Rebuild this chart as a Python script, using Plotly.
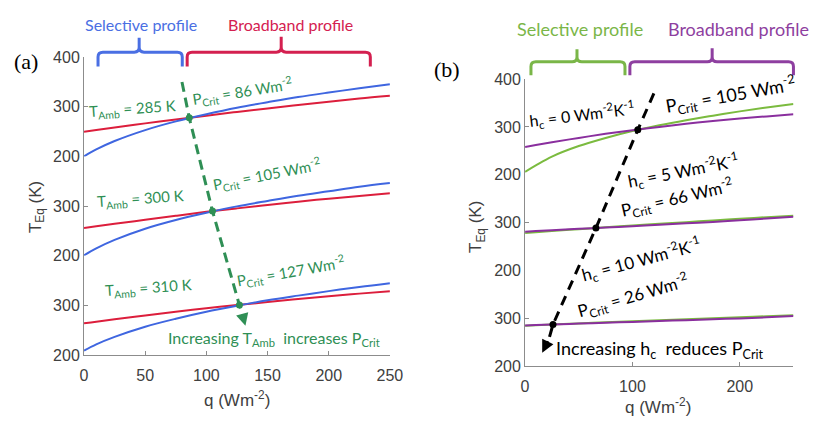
import plotly.graph_objects as go

W, H = 828, 427

# ---------------- data ----------------
q = [0, 10, 25, 50, 75, 100, 125, 150, 175, 200, 225, 250]

# panel (a): ambient temperature sweep (selective vs broadband emitter)
a_sel_285 = [200, 214, 231, 253, 270.5, 285, 298, 309, 319.5, 328.5, 337, 345]
a_bb_285 = [249.5, 253, 258, 266.5, 274.5, 282, 289.5, 296.5, 303.5, 310, 316.5, 322]
a_sel_300 = [201, 215, 232, 254.5, 272, 286.5, 299.5, 310.5, 321, 330, 339, 346.5]
a_bb_300 = [256, 259.5, 264.5, 272.5, 280.5, 288.5, 295.5, 302.5, 309, 315, 320.5, 326]
a_sel_310 = [209.5, 222, 237, 257.5, 273.5, 287.5, 299.5, 310.5, 320, 329, 337.5, 345]
a_bb_310 = [264.5, 267.5, 272.5, 280, 287.5, 294.5, 301, 307, 313, 318.5, 324, 329]

# panel (b): convection coefficient sweep
b_sel_0 = [206, 219.5, 238, 260, 277, 291.5, 303.5, 314, 323.5, 332.5, 340.5, 348]
b_bb_0 = [258, 262, 268, 277, 285.5, 293, 300, 306.5, 312.5, 317.5, 322, 326.5]
b_sel_5 = [278, 279.8, 282.3, 286.3, 290.2, 294, 297.6, 301, 304.5, 308, 311.3, 314.5]
b_bb_5 = [281, 282.2, 284, 287, 289.7, 292.5, 295.5, 298.5, 301.5, 305, 308.5, 312.2]
b_sel_10 = [284.2, 285.3, 287, 289.3, 291.5, 293.6, 295.7, 297.9, 300, 302.2, 304.3, 306.5]
b_bb_10 = [285, 285.8, 287, 288.9, 290.7, 292.5, 294.3, 296.1, 297.9, 299.8, 302, 304.8]

# critical powers (q) and temperatures where the two profiles cross
a_pcrit = [86, 105, 127]
a_tcross = [277.8, 290, 301]
b_pcrit = [105, 66, 26]
b_tcross = [294, 288.7, 287]

a_labels_t = ["285", "300", "310"]
b_labels_h = ["0", "5", "10"]

# ---------------- layout geometry (pixels) ----------------
XPX = {"a": (81.7, 394.0), "b": (532.0, 806.0)}
YPX = {"a": [51.0, 154.6, 258.1, 361.7], "b": [74.0, 173.7, 273.3, 373.0]}
QMAX, TMIN, TMAX = 250, 200, 400


def paper(x, y):
    return x / W, 1 - y / H


def data_px(panel, row, qq, tt):
    x0, x1 = XPX[panel]
    top, bot = YPX[panel][row], YPX[panel][row + 1]
    return (x0 + qq / QMAX * (x1 - x0),
            bot - (tt - TMIN) / (TMAX - TMIN) * (bot - top))


BLUE, RED = "#3f66e0", "#dc1e3c"
GREEN_A = "#2f8f55"
LGREEN, PURPLE = "#7bbb3f", "#8a2f9e"
AXC, TXC = "#8c8c8c", "#404040"

fig = go.Figure()

axis_common = dict(showgrid=False, zeroline=False, showline=True, linecolor=AXC,
                   linewidth=1, ticks="inside", ticklen=4, tickcolor=AXC,
                   tickfont=dict(family="Liberation Sans, Arial", size=16, color=TXC))

layout = dict(width=W, height=H, margin=dict(l=0, r=0, t=0, b=0), autosize=False,
              paper_bgcolor="white", plot_bgcolor="rgba(0,0,0,0)", showlegend=False)

# x axes
layout["xaxis"] = dict(axis_common, domain=[XPX["a"][0] / W, XPX["a"][1] / W],
                       range=[0, QMAX], anchor="y3", tickvals=[0, 50, 100, 150, 200, 250],
                       ticklabelstandoff=6)
layout["xaxis2"] = dict(axis_common, domain=[XPX["b"][0] / W, XPX["b"][1] / W],
                        range=[0, QMAX], anchor="y6", tickvals=[0, 100, 200],
                        ticklabelstandoff=6)

# y axes: three stacked per panel
for panel, base, xa in (("a", 1, "x"), ("b", 4, "x2")):
    for r in range(3):
        top, bot = YPX[panel][r], YPX[panel][r + 1]
        name = "yaxis" if base + r == 1 else f"yaxis{base + r}"
        layout[name] = dict(axis_common, domain=[1 - bot / H, 1 - top / H],
                            range=[TMIN, TMAX], anchor=xa,
                            tickvals=[200, 300, 400] if r == 0 else [200, 300])

fig.update_layout(**layout)

# curves
series_a = [(a_sel_285, a_bb_285), (a_sel_300, a_bb_300), (a_sel_310, a_bb_310)]
series_b = [(b_sel_0, b_bb_0), (b_sel_5, b_bb_5), (b_sel_10, b_bb_10)]
for r, (sel, bb) in enumerate(series_a):
    ya = "y" if r == 0 else f"y{r + 1}"
    fig.add_trace(go.Scatter(x=q, y=bb, mode="lines", line=dict(color=RED, width=2, shape="spline"),
                             xaxis="x", yaxis=ya))
    fig.add_trace(go.Scatter(x=q, y=sel, mode="lines", line=dict(color=BLUE, width=2, shape="spline"),
                             xaxis="x", yaxis=ya))
for r, (sel, bb) in enumerate(series_b):
    ya = f"y{r + 4}"
    fig.add_trace(go.Scatter(x=q, y=sel, mode="lines", line=dict(color=LGREEN, width=2, shape="spline"),
                             xaxis="x2", yaxis=ya))
    fig.add_trace(go.Scatter(x=q, y=bb, mode="lines", line=dict(color=PURPLE, width=2, shape="spline"),
                             xaxis="x2", yaxis=ya))

# dashed guide lines through the crossing points


def dashed_path(points):
    pts = [paper(*p) for p in points]
    return "M " + " L ".join(f"{x:.5f},{y:.5f}" for x, y in pts)


a_pts = [data_px("a", r, a_pcrit[r], a_tcross[r]) for r in range(3)]
b_pts = [data_px("b", r, b_pcrit[r], b_tcross[r]) for r in range(3)]

a_start, a_tail, a_tip = (181.7, 77.0), (243.0, 318.0), (246.5, 331.0)
b_start, b_tail, b_tip = (663.5, 89.0), (556.0, 346.0), (549.5, 359.0)

fig.add_shape(type="path", xref="paper", yref="paper", layer="above",
              path=dashed_path([a_start] + a_pts + [a_tail]),
              line=dict(color=GREEN_A, width=3, dash="10px,6px"))
fig.add_shape(type="path", xref="paper", yref="paper", layer="above",
              path=dashed_path([b_start] + b_pts + [b_tail]),
              line=dict(color="black", width=3, dash="10px,7px"))

for r in range(3):
    fig.add_trace(go.Scatter(x=[a_pcrit[r]], y=[a_tcross[r]], mode="markers",
                             marker=dict(color=GREEN_A, size=7), xaxis="x",
                             yaxis="y" if r == 0 else f"y{r + 1}"))
    fig.add_trace(go.Scatter(x=[b_pcrit[r]], y=[b_tcross[r]], mode="markers",
                             marker=dict(color="black", size=7), xaxis="x2", yaxis=f"y{r + 4}"))

annotations = []


def arrow(tail, tip, color):
    tx, ty = paper(*tip)
    annotations.append(dict(x=tx, y=ty, xref="paper", yref="paper", text="", showarrow=True,
                            axref="pixel", ayref="pixel", ax=tail[0] - tip[0], ay=tail[1] - tip[1],
                            arrowhead=2, arrowsize=1, arrowwidth=2.5, arrowcolor=color))


arrow(a_tail, a_tip, GREEN_A)
arrow(b_tail, b_tip, "black")


def text(x, y, s, color, size=15, angle=0, family="Lato"):
    px, py = paper(x, y)
    annotations.append(dict(x=px, y=py, xref="paper", yref="paper", text=s, showarrow=False,
                            xanchor="center", yanchor="middle", textangle=angle,
                            font=dict(family=family, size=size, color=color)))


# panel labels
text(22, 56, "(a)", "black", 22, family="Liberation Serif")
text(452, 64, "(b)", "black", 22, family="Liberation Serif")

# headers
text(140, 17, "Selective profile", "#4a6fe3", 16)
text(292, 17, "Broadband profile", "#d42050", 16)
text(588, 22, "Selective profile", "#7ab648", 18)
text(750, 22, "Broadband profile", "#8e3fa0", 18)

# annotations panel (a)
text(131, 105, f"T<sub>Amb</sub> = {a_labels_t[0]} K", GREEN_A, 15, -4)
text(243, 87, f"P<sub>Crit</sub> = {a_pcrit[0]} Wm<sup>-2</sup>", GREEN_A, 15, -9)
text(139, 199, f"T<sub>Amb</sub> = {a_labels_t[1]} K", GREEN_A, 15, -4)
text(268, 173, f"P<sub>Crit</sub> = {a_pcrit[1]} Wm<sup>-2</sup>", GREEN_A, 15, -11)
text(148, 292, f"T<sub>Amb</sub> = {a_labels_t[2]} K", GREEN_A, 15, -4)
text(292, 274, f"P<sub>Crit</sub> = {a_pcrit[2]} Wm<sup>-2</sup>", GREEN_A, 15, -10)
text(276, 344, "Increasing T<sub>Amb</sub>  increases P<sub>Crit</sub>", GREEN_A, 16)

# annotations panel (b)
text(590, 111, f"h<sub>c</sub> = {b_labels_h[0]} Wm<sup>-2</sup>K<sup>-1</sup>", "black", 16, -7)
text(742, 91, f"P<sub>Crit</sub> = {b_pcrit[0]} Wm<sup>-2</sup>", "black", 18, -10)
text(694, 170, f"h<sub>c</sub> = {b_labels_h[1]} Wm<sup>-2</sup>K<sup>-1</sup>", "black", 17, -11)
text(687, 198, f"P<sub>Crit</sub> = {b_pcrit[1]} Wm<sup>-2</sup>", "black", 17, -13)
text(650, 262, f"h<sub>c</sub> = {b_labels_h[2]} Wm<sup>-2</sup>K<sup>-1</sup>", "black", 17, -15)
text(642, 300, f"P<sub>Crit</sub> = {b_pcrit[2]} Wm<sup>-2</sup>", "black", 17, -16)
text(670, 356, "Increasing h<sub>c</sub>  reduces P<sub>Crit</sub>", "black", 18)

# axis titles
text(33, 207, "T<sub>Eq</sub> (K)", TXC, 17, -90, "Liberation Sans, Arial")
text(483, 228, "T<sub>Eq</sub> (K)", TXC, 17, -90, "Liberation Sans, Arial")
text(238, 407, "q (Wm<sup>-2</sup>)", TXC, 17, 0, "Liberation Sans, Arial")
text(668, 415, "q (Wm<sup>-2</sup>)", TXC, 17, 0, "Liberation Sans, Arial")

fig.update_layout(annotations=annotations)


# curly brackets above each panel
def brace(x0, x1, xm, yt, yb, yp, color, r=5):
    pts = lambda x, y: "{:.5f},{:.5f}".format(*paper(x, y))
    path = (f"M {pts(x0, yb)} L {pts(x0, yt + r)} Q {pts(x0, yt)} {pts(x0 + r, yt)} "
            f"L {pts(xm - r, yt)} Q {pts(xm, yt)} {pts(xm, yt - r)} L {pts(xm, yp)} "
            f"M {pts(xm, yt - r)} Q {pts(xm, yt)} {pts(xm + r, yt)} "
            f"L {pts(x1 - r, yt)} Q {pts(x1, yt)} {pts(x1, yt + r)} L {pts(x1, yb)}")
    fig.add_shape(type="path", xref="paper", yref="paper", path=path,
                  line=dict(color=color, width=3))


brace(96, 182, 138, 46, 61, 31, "#4a6fe3")
brace(187, 374, 283, 46, 61, 30, "#d42050")
brace(538, 634, 585, 56, 70, 43, "#7ab648")
brace(639, 806, 723, 56, 70, 42, "#8e3fa0")

fig.write_html("out.html")
